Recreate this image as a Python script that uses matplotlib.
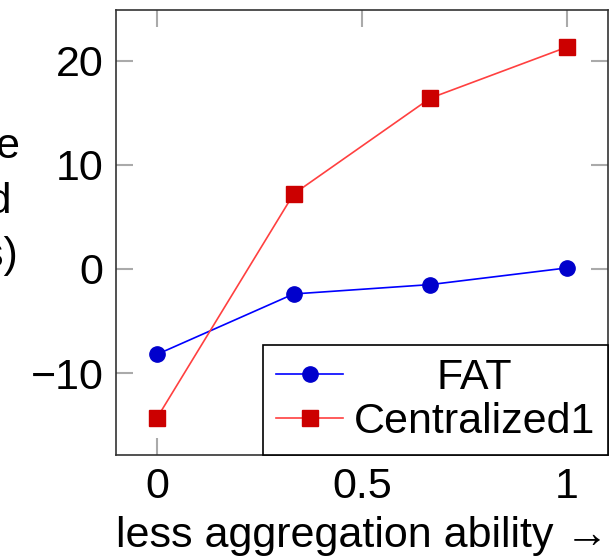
import matplotlib.pyplot as plt
import numpy as np

plt.rcParams['font.family'] = ['Liberation Sans', 'DejaVu Sans']

x = [0, 1/3, 2/3, 1]
fat = [-8.2, -2.4, -1.5, 0.1]
central = [-14.3, 7.2, 16.4, 21.3]
xticks = [0, 0.5, 1]
yticks = [-10, 0, 10, 20]
ylabel_lines = ['Response time', 'reduced', '(seconds)']

fs = 31

fig = plt.figure(figsize=(6.13, 5.58), dpi=100)
ax = fig.add_axes([116/613, 1-455/558, 492/613, 445/558])

ax.plot(x, fat, color='#0000ff', lw=1.2, marker='o', ms=11,
        mfc='#0000cc', mec='#0000cc', label='FAT')
ax.plot(x, central, color='#ff4040', lw=1.2, marker='s', ms=12,
        mfc='#cc0000', mec='#cc0000', label='Centralized1')

ax.set_xlim(-0.1, 1.1)
ax.set_ylim(-17.86, 24.86)
ax.set_xticks(xticks)
ax.set_xticklabels(['0', '0.5', '1'])
ax.set_yticks(yticks)
ax.set_yticklabels(['\u221210', '0', '10', '20'])
ax.tick_params(direction='in', length=12, width=1.5, color='#aaaaaa',
               top=True, right=True, labelsize=fs, pad=9)
for s in ax.spines.values():
    s.set_color('#333333')
    s.set_linewidth(1.2)

ax.set_xlabel('less aggregation ability \u2192', fontsize=fs, labelpad=6)

# y label, cut off at the left edge like the reference
for txt, xr, yb in zip(ylabel_lines, [20, 12, 18], [158, 213, 267]):
    fig.text(xr/613, 1-yb/558, txt, fontsize=fs, ha='right', va='baseline')

leg = ax.legend(loc='lower right', bbox_to_anchor=(1, 0), borderaxespad=0,
                fontsize=fs, fancybox=False, edgecolor='black', framealpha=1,
                handlelength=1.55, handletextpad=0.25, labelspacing=0.1,
                borderpad=0.3)
leg.get_frame().set_linewidth(1.2)

# centre "FAT" in the text column like pgfplots does
fig.canvas.draw()
r = fig.canvas.get_renderer()
t0, t1 = leg.get_texts()
w0 = t0.get_window_extent(r).width
w1 = t1.get_window_extent(r).width
t0.set_x((w1 - w0) / 2)

fig.savefig('out.png', dpi=100)
